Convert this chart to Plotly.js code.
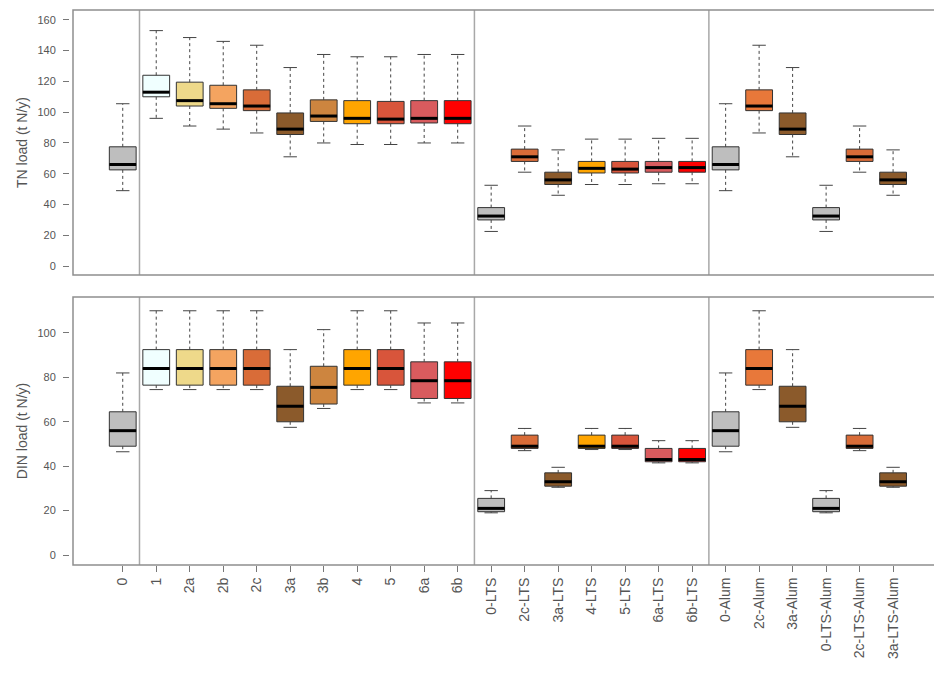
<!DOCTYPE html>
<html>
<head>
<meta charset="utf-8">
<script src="https://cdn.plot.ly/plotly-3.0.1.min.js"></script>
<style>
html,body{margin:0;padding:0;overflow:hidden;background:#fff;}
#chart{width:945px;height:675px;}
</style>
</head>
<body>
<div id="chart"></div>
<script>
// ---------- data ----------
const categories = ["0","1","2a","2b","2c","3a","3b","4","5","6a","6b",
  "0-LTS","2c-LTS","3a-LTS","4-LTS","5-LTS","6a-LTS","6b-LTS",
  "0-Alum","2c-Alum","3a-Alum","0-LTS-Alum","2c-LTS-Alum","3a-LTS-Alum"];

const boxColors = ["#BEBEBE","#F0FFFF","#EED98A","#F4A460","#D96C38","#8B5A2B","#CD853F","#FFA500","#D8553B","#D95B5E","#FF0000",
  "#BEBEBE","#D96C38","#8B5A2B","#FFA500","#D8553B","#D95B5E","#FF0000",
  "#BEBEBE","#E8783A","#8B5A2B","#BEBEBE","#D96C38","#8B5A2B"];

// TN load (t N/y)
const tnLow  = [49, 96, 91, 89, 86.5, 71, 80, 79, 79, 80, 80,   22.5, 61, 46, 53, 53, 53.5, 53.5,   49, 86.5, 71, 22.5, 61, 46];
const tnQ1   = [62.5,110,104,102.5,101,85.5,94,92.5,92.5,93,92.5, 30, 68, 53, 60.5, 60.5, 61, 61,  62.5, 101, 85.5, 30, 68, 53];
const tnMed  = [66, 113, 107.5,105.5,104, 89, 97.5, 96, 95.5, 96, 96, 32.5, 71, 56, 63.5, 63, 64, 64,  66, 104, 89, 32.5, 71, 56];
const tnQ3   = [77.5,124,119.5,117.5,114.5,99.5,108,107.5,107,107.5,107.5, 38, 76, 61, 68, 68, 68, 68, 77.5, 114.5, 99.5, 38, 76, 61];
const tnHigh = [105.5,153,148.5,146,143.5,129,137.5,136,136,137.5,137.5, 52.5, 91, 75.5, 82.5, 82.5, 83, 83, 105.5, 143.5, 129, 52.5, 91, 75.5];

// DIN load (t N/y)
const dinLow  = [46.5, 74.5, 74.5, 74.5, 74.5, 57.5, 66, 74.5, 74.5, 68.5, 68.5, 19, 47, 30.5, 47.5, 47.5, 41.5, 41.5, 46.5, 74.5, 57.5, 19, 47, 30.5];
const dinQ1   = [49, 76.5, 76.5, 76.5, 76.5, 60, 68, 76.5, 76.5, 70.5, 70.5, 19.5, 48, 31, 48, 48, 42, 42, 49, 76.5, 60, 19.5, 48, 31];
const dinMed  = [56, 84, 84, 84, 84, 67, 75.5, 84, 84, 78.5, 78.5, 21, 49, 33, 49, 49, 43, 43, 56, 84, 67, 21, 49, 33];
const dinQ3   = [64.5, 92.5, 92.5, 92.5, 92.5, 76, 85, 92.5, 92.5, 87, 87, 25.5, 54, 37, 54, 54, 48, 48, 64.5, 92.5, 76, 25.5, 54, 37];
const dinHigh = [82, 110, 110, 110, 110, 92.5, 101.5, 110, 110, 104.5, 104.5, 29, 57, 39.5, 57, 57, 51.5, 51.5, 82, 110, 92.5, 29, 57, 39.5];

const groupBreaks = [0.5, 10.5, 17.5];
const tnTicks = [0,20,40,60,80,100,120,140,160];
const dinTicks = [0,20,40,60,80,100];

// ---------- build ----------
const idx = categories.map((c,i)=>i);
const BOXW = 0.8, CAPW = 0.2, MEDW = 0.4;
const traces = [];

function panel(low,q1,med,q3,high,xa,ya){
  idx.forEach(i=>{
    traces.push({
      type:'box', x:[i], q1:[q1[i]], median:[med[i]], q3:[q3[i]],
      lowerfence:[q1[i]], upperfence:[q3[i]],
      width:BOXW, whiskerwidth:0, boxpoints:false,
      fillcolor:boxColors[i], line:{color:'#333333', width:1},
      xaxis:xa, yaxis:ya, showlegend:false, hoverinfo:'skip', name:categories[i]
    });
  });
  // dashed whiskers
  const wx=[], wy=[];
  idx.forEach(i=>{ wx.push(i,i,null,i,i,null); wy.push(q3[i],high[i],null,q1[i],low[i],null); });
  traces.push({type:'scatter',mode:'lines',x:wx,y:wy,xaxis:xa,yaxis:ya,
    line:{color:'#444444',width:1,dash:'3px,3px'},showlegend:false,hoverinfo:'skip'});
  // caps
  const cx=[], cy=[];
  idx.forEach(i=>{ cx.push(i-CAPW,i+CAPW,null,i-CAPW,i+CAPW,null); cy.push(high[i],high[i],null,low[i],low[i],null); });
  traces.push({type:'scatter',mode:'lines',x:cx,y:cy,xaxis:xa,yaxis:ya,
    line:{color:'#444444',width:1},showlegend:false,hoverinfo:'skip'});
  // thick medians
  const mx=[], my=[];
  idx.forEach(i=>{ mx.push(i-MEDW,i+MEDW,null); my.push(med[i],med[i],null); });
  traces.push({type:'scatter',mode:'lines',x:mx,y:my,xaxis:xa,yaxis:ya,
    line:{color:'#000000',width:3},showlegend:false,hoverinfo:'skip'});
}
panel(tnLow,tnQ1,tnMed,tnQ3,tnHigh,'x','y');
panel(dinLow,dinQ1,dinMed,dinQ3,dinHigh,'x2','y2');

const W=945, H=675;
const xDom=[73/W, 943/W];
const xRange=[-1.485, 24.49];
const FF='Liberation Sans, Arial, sans-serif';
const tickFont={family:FF, size:11, color:'#555'};

const shapes=[];
[['x','y'],['x2','y2']].forEach(([xa,ya])=>{
  groupBreaks.forEach(b=>shapes.push({type:'line',xref:xa,yref:ya+' domain',x0:b,x1:b,y0:0,y1:1,
    line:{color:'#a8a8a8',width:1.5},layer:'below'}));
  shapes.push({type:'rect',xref:xa+' domain',yref:ya+' domain',x0:0,x1:1,y0:0,y1:1,
    line:{color:'#8f8f8f',width:1.5}});
});

const layout={
  width:W, height:H, margin:{l:0,r:0,t:0,b:0},
  paper_bgcolor:'#fff', plot_bgcolor:'#fff', boxmode:'overlay', showlegend:false,
  font:{family:FF, color:'#555'},
  xaxis:{domain:xDom, range:xRange, anchor:'y', showticklabels:false, ticks:'', showgrid:false, zeroline:false, showline:false},
  yaxis:{domain:[1-275/H, 1-10/H], range:[-5.8,166.4], anchor:'free', position:69/W,
    tickvals:tnTicks, ticks:'outside', ticklen:6, tickcolor:'#777', tickfont:tickFont,
    ticklabelstandoff:5, showgrid:false, zeroline:false, showline:false,
    title:{text:'TN load (t N/y)', font:{family:FF, size:14, color:'#555'}, standoff:5}},
  xaxis2:{domain:xDom, range:xRange, anchor:'y2', tickvals:idx, ticktext:categories,
    tickangle:-90, ticks:'outside', ticklen:6, tickcolor:'#777',
    tickfont:{family:FF, size:14, color:'#555'},
    showgrid:false, zeroline:false, showline:false},
  yaxis2:{domain:[1-565/H, 1-297/H], range:[-4.5,116.2], anchor:'free', position:69/W,
    tickvals:dinTicks, ticks:'outside', ticklen:6, tickcolor:'#777', tickfont:tickFont,
    ticklabelstandoff:5, showgrid:false, zeroline:false, showline:false,
    title:{text:'DIN load (t N/y)', font:{family:FF, size:14, color:'#555'}, standoff:5}},
  shapes:shapes
};

Plotly.newPlot('chart', traces, layout, {staticPlot:true, displayModeBar:false});
</script>
</body>
</html>
